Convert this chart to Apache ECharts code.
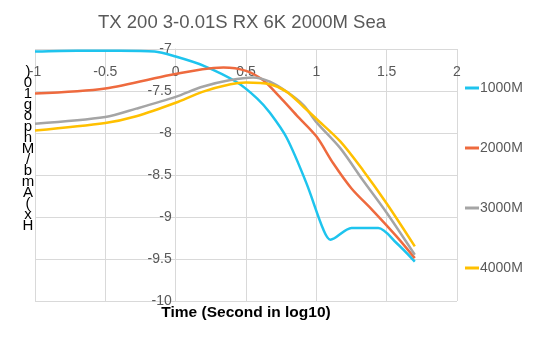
<!DOCTYPE html>
<html>
<head>
<meta charset="utf-8">
<script src="https://cdn.jsdelivr.net/npm/echarts@6/dist/echarts.min.js"></script>
<style>
  html, body { margin: 0; padding: 0; background: #fff; }
  #chart { width: 548px; height: 351px; }
</style>
</head>
<body>
<div id="chart"></div>
<script>
// values (x = log10 of time)
const names = ["1000M", "2000M", "3000M", "4000M"];
const colors = ["#1ec4ee", "#ee6a3e", "#a5a5a5", "#ffc000"];

const x1000 = [-1, -0.7, -0.4, -0.15, 0, 0.2, 0.43, 0.58, 0.67, 0.79, 0.93, 1.05, 1.1, 1.25, 1.44, 1.57, 1.7];
const y1000 = [-7.03, -7.02, -7.02, -7.03, -7.09, -7.2, -7.39, -7.59, -7.76, -8.06, -8.6, -9.15, -9.27, -9.13, -9.13, -9.31, -9.53];

const x2000 = [-1, -0.5, -0.04, 0.19, 0.34, 0.5, 0.62, 0.74, 0.86, 1.0, 1.12, 1.25, 1.4, 1.57, 1.7];
const y2000 = [-7.53, -7.47, -7.31, -7.24, -7.22, -7.26, -7.37, -7.57, -7.79, -8.04, -8.36, -8.66, -8.92, -9.23, -9.49];

const x3000 = [-1, -0.5, -0.28, 0, 0.19, 0.39, 0.55, 0.67, 0.79, 0.91, 1.0, 1.17, 1.33, 1.5, 1.7];
const y3000 = [-7.89, -7.81, -7.71, -7.57, -7.45, -7.37, -7.34, -7.39, -7.51, -7.67, -7.87, -8.18, -8.56, -8.95, -9.45];

const x4000 = [-1, -0.5, -0.28, 0, 0.19, 0.39, 0.5, 0.67, 0.79, 0.91, 1.0, 1.17, 1.33, 1.5, 1.7];
const y4000 = [-7.97, -7.88, -7.8, -7.64, -7.51, -7.42, -7.4, -7.42, -7.51, -7.69, -7.83, -8.1, -8.44, -8.84, -9.35];

const xsAll = [x1000, x2000, x3000, x4000];
const ysAll = [y1000, y2000, y3000, y4000];

// y axis title as drawn in the original (one char per line)
const yTitleChars = [")", "0", "1", "g", "o", "p", "n", "M", "/", "b", "m", "A", "(", "x", "H"];

const font = "'Liberation Sans', sans-serif";
const chart = echarts.init(document.getElementById("chart"));

const series = names.map((n, i) => ({
    name: n,
    type: "line",
    data: xsAll[i].map((x, j) => [x, ysAll[i][j]]),
    smooth: 0.3,
    showSymbol: false,
    lineStyle: { width: 2.5, color: colors[i] },
    itemStyle: { color: colors[i] }
}));

chart.setOption({
    animation: false,
    title: {
        text: "TX 200 3-0.01S RX 6K 2000M Sea",
        left: 237,
        textAlign: "center",
        top: 8,
        textStyle: { fontFamily: font, fontSize: 18.5, fontWeight: "normal", color: "#595959" }
    },
    grid: { left: 35, right: 91, top: 49, bottom: 50 },
    legend: {
        orient: "vertical",
        left: 460,
        top: 75,
        itemGap: 44,
        icon: "rect",
        itemWidth: 14,
        itemHeight: 3,
        textStyle: { fontFamily: font, fontSize: 14, color: "#595959", padding: [0, 0, 0, -4], lineHeight: 16 },
        data: names
    },
    xAxis: {
        type: "value",
        min: -1,
        max: 2,
        interval: 0.5,
        position: "top",
        axisLine: { show: false, onZero: false },
        axisTick: { show: false },
        axisLabel: { inside: true, margin: 16, fontFamily: font, fontSize: 14, color: "#595959" },
        splitLine: { show: true, lineStyle: { color: "#d9d9d9", width: 1 } }
    },
    yAxis: {
        type: "value",
        min: -10,
        max: -7,
        interval: 0.5,
        // the vertical axis crosses at x = 0 (one unit right of the left edge)
        offset: -140.7,
        axisLine: { show: true, onZero: false, lineStyle: { color: "#d9d9d9" } },
        axisTick: { show: false },
        axisLabel: { margin: 4, fontFamily: font, fontSize: 14, color: "#595959" },
        splitLine: { show: true, lineStyle: { color: "#d9d9d9", width: 1 } }
    },
    graphic: [
        {
            type: "text",
            x: 28,
            y: 66,
            style: {
                text: yTitleChars.join("\n"),
                font: "15px 'Liberation Sans', sans-serif",
                lineHeight: 11,
                fill: "#000",
                align: "center"
            }
        },
        {
            type: "text",
            x: 246,
            y: 305,
            style: {
                text: "Time (Second in log10)",
                font: "bold 15.5px 'Liberation Sans', sans-serif",
                fill: "#000",
                align: "center"
            }
        }
    ],
    series: series
});
</script>
</body>
</html>
